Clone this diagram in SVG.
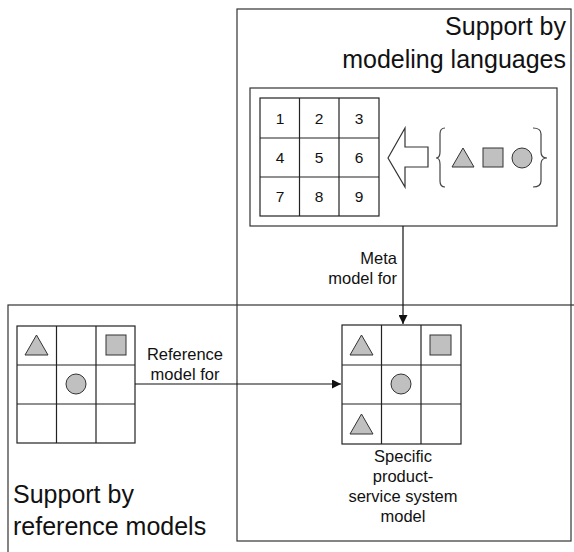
<svg xmlns="http://www.w3.org/2000/svg" width="574" height="552" viewBox="0 0 574 552">
<style>
.frame{fill:none;stroke:#333;stroke-width:1.2}
.grid{fill:#fff;stroke:#222;stroke-width:1.2}
.gl{stroke:#222;stroke-width:1.2}
.shape{fill:#c0c0c0;stroke:#333;stroke-width:1}
.t{font-family:"Liberation Sans",Arial,sans-serif;fill:#111}
.big{font-size:25px}
.mid{font-size:16.5px}
.num{font-size:15.5px;text-anchor:middle}
.conn{stroke:#111;stroke-width:1.2;fill:none}
</style>
<defs>
<marker id="ah" viewBox="0 0 10 10" refX="10" refY="5" markerWidth="9" markerHeight="9" markerUnits="userSpaceOnUse" orient="auto">
<path d="M0,0 L10,5 L0,10 z" fill="#111"/>
</marker>
</defs>
<rect width="574" height="552" fill="#fff"/>

<g id="ref-support-frame">
<rect class="frame" x="8" y="305" width="620" height="300"/>
<text class="t big" x="13" y="503">Support by</text>
<text class="t big" x="13" y="535">reference models</text>
</g>

<g id="lang-support-frame">
<rect class="frame" x="237" y="9" width="334" height="532"/>
<text class="t big" x="566" y="35" text-anchor="end">Support by</text>
<text class="t big" x="566" y="68" text-anchor="end">modeling languages</text>
</g>

<g id="metamodel">
<rect class="frame" x="250" y="88" width="307" height="138" fill="#fff"/>
<rect class="grid" x="260" y="98" width="119" height="118"/>
<path class="gl" d="M299.5,98V216M339,98V216M260,138H379M260,177H379"/>
<text class="t num" x="280" y="124">1</text>
<text class="t num" x="319" y="124">2</text>
<text class="t num" x="359" y="124">3</text>
<text class="t num" x="280" y="163">4</text>
<text class="t num" x="319" y="163">5</text>
<text class="t num" x="359" y="163">6</text>
<text class="t num" x="280" y="202">7</text>
<text class="t num" x="319" y="202">8</text>
<text class="t num" x="359" y="202">9</text>
<polygon points="388,158 405,128 405,147 428,147 428,167 405,167 405,187" fill="#fff" stroke="#333" stroke-width="1.2"/>
<path d="M445,128 Q440,128 440,134 L440,152 Q440,158 436,158 Q440,158 440,164 L440,181 Q440,187 445,187" fill="none" stroke="#444" stroke-width="1.2"/>
<path d="M533,128 Q541,128 541,134 L541,152 Q541,158 547,158 Q541,158 541,164 L541,181 Q541,187 533,187" fill="none" stroke="#444" stroke-width="1.2"/>
<polygon class="shape" points="452,167 474,167 463,148"/>
<rect class="shape" x="483" y="148" width="20" height="19"/>
<circle class="shape" cx="522" cy="158" r="10"/>
</g>

<g id="reference-model">
<rect class="grid" x="17" y="326" width="118" height="117"/>
<path class="gl" d="M56.5,326V443M96,326V443M17,365H135M17,404H135"/>
<polygon class="shape" points="25,355 48,355 36.5,335"/>
<rect class="shape" x="106" y="335" width="20" height="20"/>
<circle class="shape" cx="76" cy="384" r="10"/>
</g>

<g id="specific-model">
<rect class="grid" x="342" y="325" width="119" height="119"/>
<path class="gl" d="M381.5,325V444M421,325V444M342,365H461M342,404H461"/>
<polygon class="shape" points="350,355 373,355 361.5,335"/>
<rect class="shape" x="430" y="335" width="21" height="20"/>
<circle class="shape" cx="401" cy="384" r="10"/>
<polygon class="shape" points="350,434 373,434 361.5,414"/>
<text class="t mid" text-anchor="middle" x="403" y="462">Specific</text>
<text class="t mid" text-anchor="middle" x="403" y="482">product-</text>
<text class="t mid" text-anchor="middle" x="403" y="502">service system</text>
<text class="t mid" text-anchor="middle" x="403" y="522">model</text>
</g>

<g id="connectors">
<line class="conn" x1="403" y1="226" x2="403" y2="324" marker-end="url(#ah)"/>
<text class="t mid" text-anchor="end" x="397" y="264">Meta</text>
<text class="t mid" text-anchor="end" x="397" y="284">model for</text>
<line class="conn" x1="135" y1="384" x2="341" y2="384" marker-end="url(#ah)"/>
<text class="t mid" text-anchor="middle" x="185" y="360">Reference</text>
<text class="t mid" text-anchor="middle" x="185" y="380">model for</text>
</g>
</svg>
